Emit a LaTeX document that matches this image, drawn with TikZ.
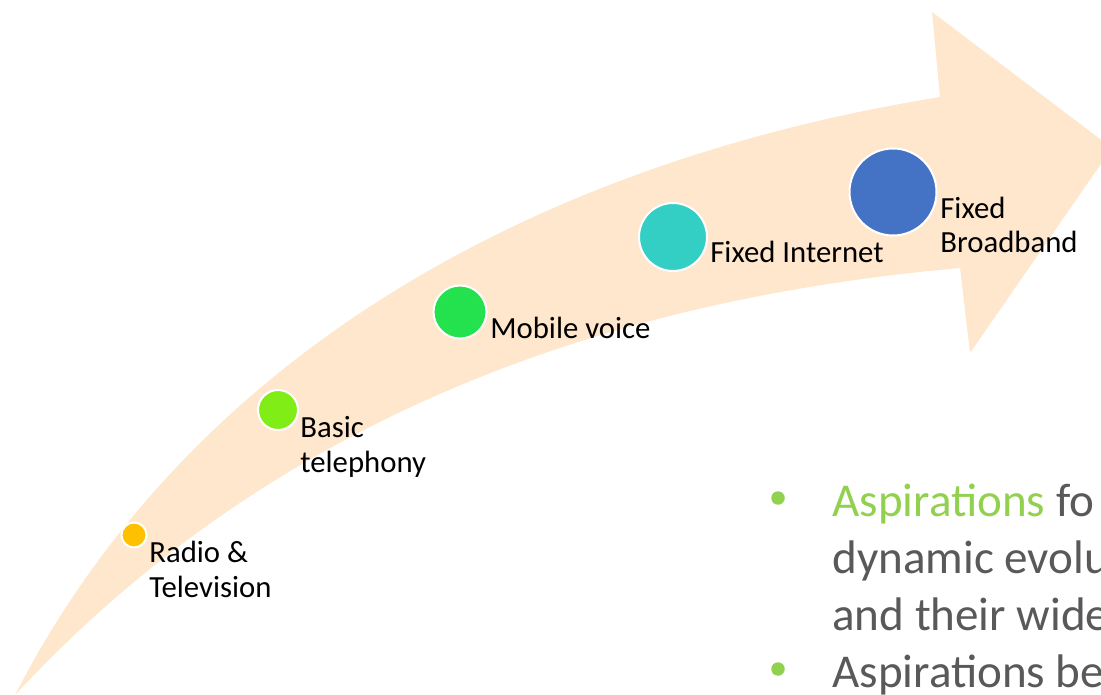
\documentclass[tikz,border=0pt]{standalone}
\usepackage{fontspec}
\setmainfont{Carlito}
\usepackage{xcolor}
\usetikzlibrary{positioning}

\definecolor{bandfill}{HTML}{FEE7CD}
\definecolor{radiocol}{HTML}{FFC000}
\definecolor{basiccol}{HTML}{80EE16}
\definecolor{mobilecol}{HTML}{24E24E}
\definecolor{netcol}{HTML}{33CFC5}
\definecolor{bbcol}{HTML}{4472C4}
\definecolor{aspgreen}{HTML}{92D050}
\definecolor{bodygray}{HTML}{595959}

\begin{document}
\begin{tikzpicture}[x=0.02cm, y=-0.02cm,
					stage/.style={circle, draw=white, line width=0.04cm, inner sep=0pt},
					stagelabel/.style={anchor=base west, align=left, inner sep=0pt,
						font=\fontsize{17.5}{19.9}\selectfont},
					bulletdot/.style={circle, fill=aspgreen, inner sep=0pt, minimum size=0.27cm},
					bullettext/.style={anchor=base west, align=left, inner sep=0pt, text=bodygray,
						font=\fontsize{26.8}{32.4}\selectfont}
					]
					\useasboundingbox (0,0) rectangle (1101,695);
					\clip (0,0) rectangle (1101,695);
					% curved arrow
					\fill[bandfill] (15,695) .. controls (195,345) and (550,160) .. (940,97)
						-- (932,12) -- (1112,148) -- (970,353) -- (960,268)
						.. controls (600,300) and (270,420) .. (15,695) -- cycle;
					% stages
					\node[stage, fill=radiocol, minimum size=0.5cm] (radio) at (134,535) {};
					\node[stage, fill=basiccol, minimum size=0.8cm] (basic) at (278,410) {};
					\node[stage, fill=mobilecol, minimum size=1.06cm] (mobile) at (460,312) {};
					\node[stage, fill=netcol, minimum size=1.36cm] (internet) at (673,237) {};
					\node[stage, fill=bbcol, minimum size=1.74cm] (broadband) at (893,192) {};
					% labels (base = last line)
					\node[stagelabel] (radiotxt) at (149,597) {Radio \&\\Television};
					\node[stagelabel] (basictxt) at (300,472) {Basic\\telephony};
					\node[stagelabel] (mobiletxt) at (490,339) {Mobile voice};
					\node[stagelabel] (internettxt) at (710,263) {Fixed Internet};
					\node[stagelabel] (broadbandtxt) at (940,253) {Fixed\\Broadband};
					% bullets
					\node[bulletdot] (dot1) at (778,498) {};
					\node[bulletdot] (dot2) at (778,669) {};
					\node[bullettext] (asp) at (832,687)
						{\textcolor{aspgreen}{Aspirations} fo\\dynamic evolu\\and their wide\\Aspirations be};
				\end{tikzpicture}
\end{document}
